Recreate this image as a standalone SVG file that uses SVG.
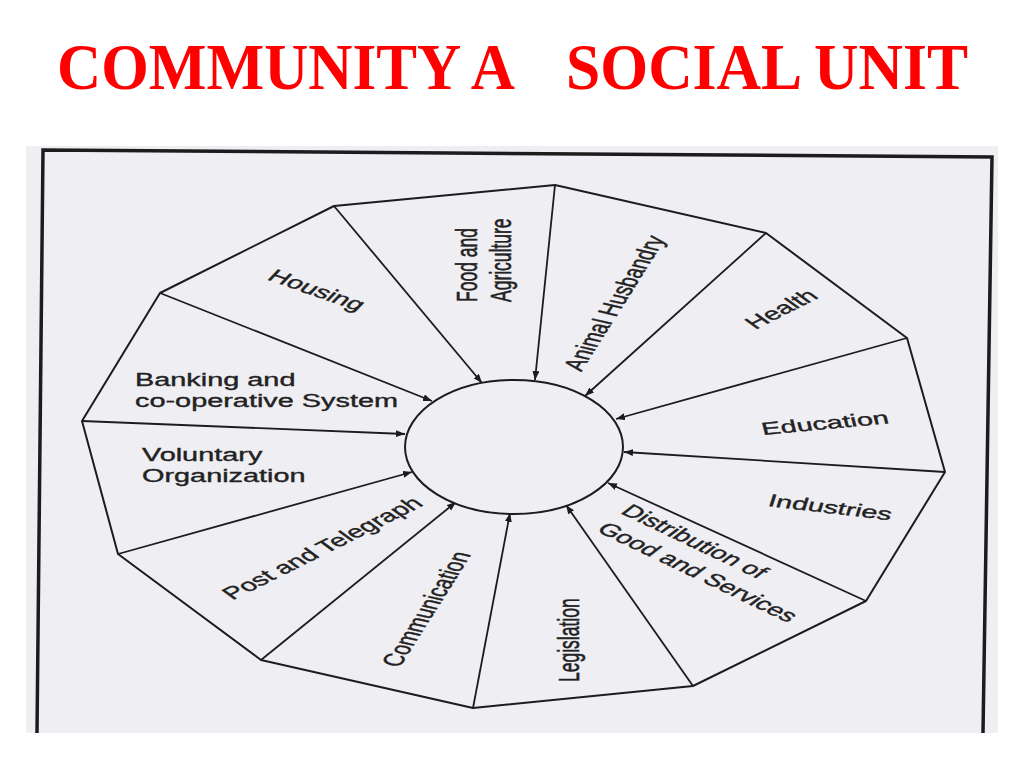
<svg xmlns="http://www.w3.org/2000/svg" width="1024" height="768" viewBox="0 0 1024 768">
  <defs>
    <marker id="ah" markerWidth="10" markerHeight="8" refX="9" refY="3.5" orient="auto" markerUnits="userSpaceOnUse">
      <path d="M0,0 L9,3.5 L0,7 z" fill="#1c1c1c"/>
    </marker>
  </defs>
  <style>
    .title { font-family: "Liberation Serif", "Times New Roman", serif; font-weight: bold; font-size: 65px; fill: #ff0000; }
    .lbl { font-family: "Liberation Sans", Arial, sans-serif; font-size: 17.5px; fill: #222222; stroke: #222222; stroke-width: 0.35px; }
    .mid { text-anchor: middle; }
    .edge { fill: none; stroke: #1c1c1c; stroke-width: 2; stroke-linejoin: round; }
    .spoke { fill: none; stroke: #1c1c1c; stroke-width: 1.8; marker-end: url(#ah); }
    .frame { fill: none; stroke: #1c1c1c; stroke-width: 3.5; }
  </style>
  <rect x="0" y="0" width="1024" height="768" fill="#ffffff"/>

  <g id="title">
    <text class="title" x="57" y="89" textLength="458" lengthAdjust="spacingAndGlyphs">COMMUNITY A</text>
    <text class="title" x="566" y="89" textLength="402" lengthAdjust="spacingAndGlyphs">SOCIAL UNIT</text>
  </g>

  <g id="panel">
    <rect x="26" y="146" width="972" height="587" fill="#efeef3"/>
    <polyline class="frame" points="37,733 43,150 992,157 983,733"/>
  </g>

  <g id="outline">
    <polygon class="edge" points="555,185 766,233 907,338 945,472 866,601 693,686 473,708 261,660 118,554 82,421 160,293 334,206"/>
  </g>

  <g id="connectors">
    <line class="spoke" x1="334" y1="206" x2="482" y2="383"/>
    <line class="spoke" x1="555" y1="185" x2="535" y2="380"/>
    <line class="spoke" x1="766" y1="233" x2="585" y2="396"/>
    <line class="spoke" x1="907" y1="338" x2="616" y2="419"/>
    <line class="spoke" x1="945" y1="472" x2="624" y2="452"/>
    <line class="spoke" x1="866" y1="601" x2="608" y2="483"/>
    <line class="spoke" x1="693" y1="686" x2="566" y2="505"/>
    <line class="spoke" x1="473" y1="708" x2="510" y2="513"/>
    <line class="spoke" x1="261" y1="660" x2="456" y2="502"/>
    <line class="spoke" x1="118" y1="554" x2="412" y2="472"/>
    <line class="spoke" x1="82" y1="421" x2="405" y2="434"/>
    <line class="spoke" x1="160" y1="293" x2="432" y2="401"/>
  </g>

  <g id="community">
    <ellipse cx="514" cy="447" rx="109" ry="67" fill="#efeef3" stroke="#1c1c1c" stroke-width="2"/>
  </g>

  <g id="housing">
    <text class="lbl mid" transform="translate(317,290) scale(1.65,1) rotate(30)" dy="0.35em">Housing</text>
  </g>
  <g id="food-agriculture">
    <text class="lbl" transform="translate(477,302) scale(1.65,1) rotate(-90)">Food and</text>
    <text class="lbl" transform="translate(511,302) scale(1.65,1) rotate(-90)">Agriculture</text>
  </g>
  <g id="animal-husbandry">
    <text class="lbl mid" transform="translate(614,303) scale(1.65,1) rotate(-69)" dy="0.35em">Animal Husbandry</text>
  </g>
  <g id="health">
    <text class="lbl mid" transform="translate(781,309) scale(1.65,1) rotate(-40)" dy="0.35em">Health</text>
  </g>
  <g id="education">
    <text class="lbl" transform="translate(763,435) scale(1.65,1) rotate(-8.7)">Education</text>
  </g>
  <g id="industries">
    <text class="lbl" transform="translate(767,506) scale(1.65,1) rotate(10.9)">Industries</text>
  </g>
  <g id="distribution">
    <text class="lbl mid" transform="translate(695,541) scale(1.65,1) rotate(38.3)" dy="0.35em">Distribution of</text>
    <text class="lbl mid" transform="translate(698,572) scale(1.65,1) rotate(38.3)" dy="0.35em">Good and Services</text>
  </g>
  <g id="legislation">
    <text class="lbl" transform="translate(579,682) scale(1.65,1) rotate(-90)">Legislation</text>
  </g>
  <g id="communication">
    <text class="lbl mid" transform="translate(426,609) scale(1.65,1) rotate(-69)" dy="0.35em">Communication</text>
  </g>
  <g id="post-telegraph">
    <text class="lbl mid" transform="translate(322,548) scale(1.65,1) rotate(-39.4)" dy="0.35em">Post and Telegraph</text>
  </g>
  <g id="voluntary">
    <text class="lbl" transform="translate(142,461) scale(1.65,1)">Voluntary</text>
    <text class="lbl" transform="translate(142,482) scale(1.65,1)">Organization</text>
  </g>
  <g id="banking">
    <text class="lbl" transform="translate(135,386) scale(1.65,1)">Banking and</text>
    <text class="lbl" transform="translate(135,407) scale(1.65,1)">co-operative System</text>
  </g>
</svg>
